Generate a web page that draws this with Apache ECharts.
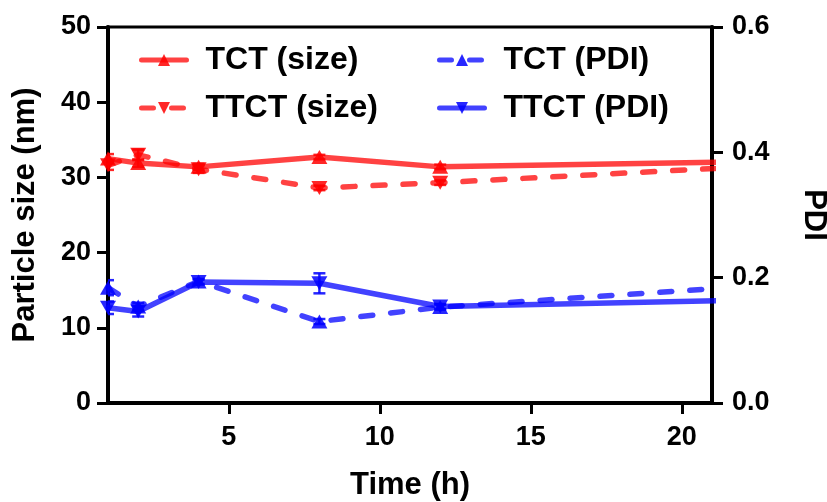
<!DOCTYPE html>
<html>
<head>
<meta charset="utf-8">
<script src="https://cdn.jsdelivr.net/npm/echarts@6/dist/echarts.min.js"></script>
<style>
html,body{margin:0;padding:0;background:#fff;}
#chart{width:827px;height:502px;}
</style>
</head>
<body>
<div id="chart"></div>
<script>
// ---- data ----
const times = [1, 2, 4, 8, 12, 24];
const tctSize = [32.5, 31.9, 31.4, 32.7, 31.4, 32.2];
const tctSizeErr = [0.6, 0.5, 0.4, 0.3, 0.3, 0];
const ttctSize = [31.6, 33.0, 31.1, 28.6, 29.3, 31.8];
const ttctSizeErr = [0.6, 0.7, 0.5, 0.3, 0.3, 0];
const tctPdi = [0.184, 0.154, 0.194, 0.130, 0.153, 0.192];
const tctPdiErr = [0.012, 0.006, 0.004, 0.004, 0.004, 0];
const ttctPdi = [0.152, 0.146, 0.193, 0.191, 0.154, 0.166];
const ttctPdiErr = [0.010, 0.008, 0.004, 0.016, 0.004, 0];
const xTicks = [5, 10, 15, 20];
const seriesNames = ['TCT (size)', 'TTCT (size)', 'TCT (PDI)', 'TTCT (PDI)'];

const RED_LINE = 'rgba(255,0,0,0.74)';
const RED_MARK = 'rgba(255,0,0,0.85)';
const BLUE_LINE = 'rgba(0,0,255,0.74)';
const BLUE_MARK = 'rgba(0,0,255,0.85)';
const FONT = '"Liberation Sans", Arial, sans-serif';

function pts(ys) { return times.map((t, i) => [t, ys[i]]); }
function errPts(ys, es) { return times.map((t, i) => [t, ys[i], es[i]]); }

function errSeries(ys, es, yAxisIndex, color) {
  return {
    type: 'custom',
    yAxisIndex: yAxisIndex,
    clip: true,
    z: 1,
    silent: true,
    data: errPts(ys, es),
    renderItem: function (params, api) {
      const x = api.value(0), y = api.value(1), e = api.value(2);
      if (!e) return null;
      const top = api.coord([x, y + e]);
      const bot = api.coord([x, y - e]);
      const hw = 6;
      const st = { stroke: color, lineWidth: 2.5 };
      return {
        type: 'group',
        children: [
          { type: 'line', shape: { x1: top[0], y1: top[1], x2: bot[0], y2: bot[1] }, style: st },
          { type: 'line', shape: { x1: top[0] - hw, y1: top[1], x2: top[0] + hw, y2: top[1] }, style: st },
          { type: 'line', shape: { x1: bot[0] - hw, y1: bot[1], x2: bot[0] + hw, y2: bot[1] }, style: st }
        ]
      };
    }
  };
}

function lineSeries(name, ys, yAxisIndex, lineColor, markColor, dashed, down) {
  return {
    name: name,
    type: 'line',
    yAxisIndex: yAxisIndex,
    data: pts(ys),
    clip: true,
    z: 3,
    symbol: 'triangle',
    symbolSize: [16, 14],
    symbolRotate: down ? 180 : 0,
    showAllSymbol: true,
    lineStyle: {
      color: lineColor,
      width: 5.5,
      type: dashed ? [12, 18] : 'solid',
      cap: 'round'
    },
    itemStyle: { color: markColor },
    emphasis: { disabled: true }
  };
}

const legendText = { fontFamily: FONT, fontWeight: 'bold', fontSize: 32, color: '#000', padding: [0, 0, 0, 14] };

const option = {
  animation: false,
  backgroundColor: '#fff',
  grid: {
    left: 108, right: 115, top: 27, bottom: 99,
    containLabel: false,
    outerBoundsMode: 'none',
    show: true, borderColor: '#000', borderWidth: 3, backgroundColor: 'transparent'
  },
  legend: [
    {
      data: [seriesNames[0], seriesNames[1]],
      orient: 'vertical', left: 134, top: 39,
      itemWidth: 45, itemHeight: 15, itemGap: 16,
      lineStyle: { width: 5 },
      textStyle: legendText, selectedMode: false
    },
    {
      data: [seriesNames[2], seriesNames[3]],
      orient: 'vertical', left: 432, top: 39,
      itemWidth: 45, itemHeight: 15, itemGap: 16,
      lineStyle: { width: 5 },
      textStyle: legendText, selectedMode: false
    }
  ],
  xAxis: {
    type: 'value',
    min: 1, max: 21,
    name: 'Time (h)',
    nameLocation: 'middle',
    nameGap: 67,
    nameTextStyle: { fontFamily: FONT, fontWeight: 'bold', fontSize: 31, color: '#000' },
    axisLine: { show: true, onZero: false, lineStyle: { color: '#000', width: 4 } },
    axisTick: { show: true, customValues: xTicks, length: 11, lineStyle: { color: '#000', width: 3 } },
    axisLabel: { customValues: xTicks, fontFamily: FONT, fontWeight: 'bold', fontSize: 27, color: '#000', margin: 21 },
    splitLine: { show: false }
  },
  yAxis: [
    {
      type: 'value',
      min: 0, max: 50, interval: 10,
      position: 'left',
      name: 'Particle size (nm)',
      nameLocation: 'middle',
      nameGap: 67,
      nameTextStyle: { fontFamily: FONT, fontWeight: 'bold', fontSize: 31, color: '#000' },
      axisLine: { show: true, onZero: false, lineStyle: { color: '#000', width: 4 } },
      axisTick: { show: true, length: 11, lineStyle: { color: '#000', width: 3 } },
      axisLabel: { fontFamily: FONT, fontWeight: 'bold', fontSize: 27, color: '#000', margin: 17 },
      splitLine: { show: false }
    },
    {
      type: 'value',
      min: 0, max: 0.6, interval: 0.2,
      position: 'right',
      name: 'PDI',
      nameLocation: 'middle',
      nameRotate: -90,
      nameGap: 86,
      nameTextStyle: { fontFamily: FONT, fontWeight: 'bold', fontSize: 31, color: '#000' },
      axisLine: { show: true, onZero: false, lineStyle: { color: '#000', width: 4 } },
      axisTick: { show: true, length: 11, lineStyle: { color: '#000', width: 3 } },
      axisLabel: { fontFamily: FONT, fontWeight: 'bold', fontSize: 27, color: '#000', margin: 20,
        formatter: v => v.toFixed(1) },
      splitLine: { show: false }
    }
  ],
  series: [
    errSeries(tctSize, tctSizeErr, 0, RED_MARK),
    errSeries(ttctSize, ttctSizeErr, 0, RED_MARK),
    errSeries(tctPdi, tctPdiErr, 1, BLUE_MARK),
    errSeries(ttctPdi, ttctPdiErr, 1, BLUE_MARK),
    lineSeries(seriesNames[0], tctSize, 0, RED_LINE, RED_MARK, false, false),
    lineSeries(seriesNames[1], ttctSize, 0, RED_LINE, RED_MARK, true, true),
    lineSeries(seriesNames[2], tctPdi, 1, BLUE_LINE, BLUE_MARK, true, false),
    lineSeries(seriesNames[3], ttctPdi, 1, BLUE_LINE, BLUE_MARK, false, true)
  ]
};

const chart = echarts.init(document.getElementById('chart'), null, { renderer: 'canvas' });
chart.setOption(option);
</script>
</body>
</html>
